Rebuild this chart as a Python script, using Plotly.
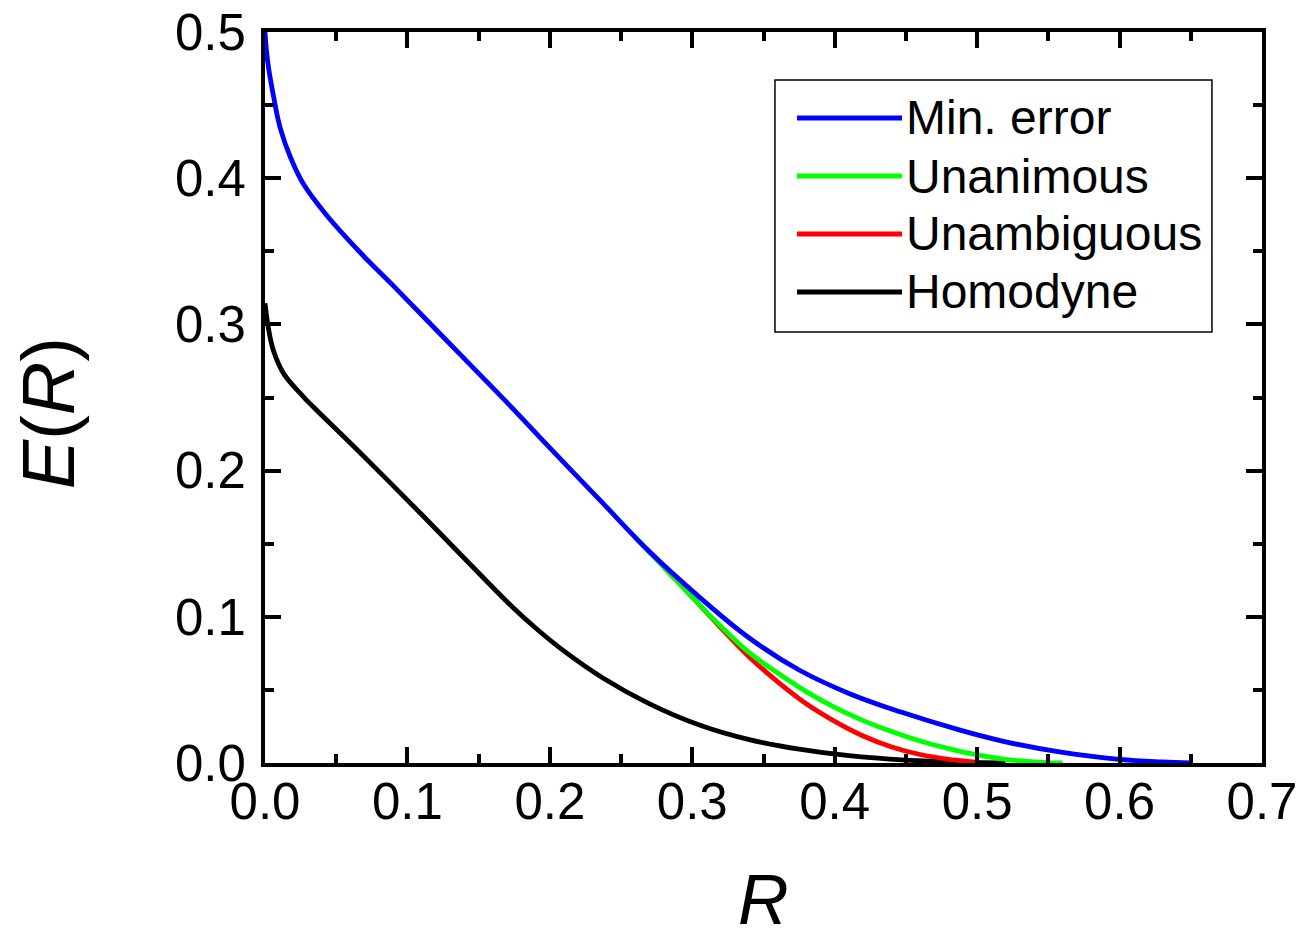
import plotly.graph_objects as go

# Error exponent E(R) versus rate R for four receiver strategies
r_min_error = [0.0, 0.002, 0.006, 0.0105, 0.018, 0.027, 0.043, 0.067, 0.09, 0.114, 0.137,
               0.17, 0.2, 0.235, 0.27, 0.305, 0.34, 0.375, 0.41, 0.446, 0.488, 0.52, 0.56,
               0.6, 0.63, 0.65]
e_min_error = [0.5, 0.479, 0.456, 0.435, 0.414, 0.396, 0.375, 0.349, 0.3265, 0.3025, 0.2795,
               0.2465, 0.2155, 0.180, 0.1445, 0.1135, 0.0855, 0.0636, 0.0476, 0.035, 0.0225, 0.0145,
               0.0072, 0.0025, 0.0007, 0.0]

r_unanimous = [0.26, 0.28, 0.30, 0.32, 0.34, 0.36, 0.38, 0.40, 0.42, 0.44, 0.46, 0.48,
               0.50, 0.52, 0.54, 0.56]
e_unanimous = [0.154, 0.134, 0.1135, 0.0935, 0.0755, 0.0615, 0.0488, 0.038, 0.029, 0.0215,
               0.015, 0.0098, 0.0055, 0.0025, 0.0008, 0.0]

r_unambiguous = [0.28, 0.30, 0.32, 0.34, 0.36, 0.38, 0.40, 0.42, 0.44, 0.46, 0.48, 0.50, 0.501]
e_unambiguous = [0.134, 0.1135, 0.0925, 0.0725, 0.0555, 0.0405, 0.0285, 0.0185, 0.011, 0.0058,
                 0.0025, 0.0003, 0.0]

r_homodyne = [0.0, 0.0023, 0.0058, 0.013, 0.027, 0.034, 0.067, 0.11, 0.156, 0.175, 0.191,
              0.21, 0.2375, 0.27, 0.305, 0.34, 0.375, 0.41, 0.45, 0.49, 0.52]
e_homodyne = [0.3145, 0.298, 0.2825, 0.2665, 0.2505, 0.2435, 0.212, 0.170, 0.124, 0.1055,
              0.0915, 0.0765, 0.058, 0.0405, 0.026, 0.016, 0.0095, 0.005, 0.002, 0.0005, 0.0]

x_ticks = [0.0, 0.1, 0.2, 0.3, 0.4, 0.5, 0.6, 0.7]
y_ticks = [0.0, 0.1, 0.2, 0.3, 0.4, 0.5]

# drawn bottom-up so Min. error sits on top; the key box lists them top-down
series = [
    ("Homodyne", r_homodyne, e_homodyne, "#000000"),
    ("Unambiguous", r_unambiguous, e_unambiguous, "#ff0000"),
    ("Unanimous", r_unanimous, e_unanimous, "#00ff00"),
    ("Min. error", r_min_error, e_min_error, "#0000ff"),
]

font_family = "Liberation Sans, Arial, sans-serif"

fig = go.Figure()
for name, xs, ys, color in series:
    fig.add_trace(go.Scatter(
        x=xs, y=ys, name=name, mode="lines", showlegend=False,
        line=dict(color=color, width=4.8, shape="spline", smoothing=1.1),
    ))

axis_common = dict(
    showline=True, linecolor="black", linewidth=4, mirror="ticks",
    ticks="inside", ticklen=16, tickwidth=4, tickcolor="black",
    showgrid=False, zeroline=False, automargin=False,
    tickfont=dict(family=font_family, size=51, color="black"),
    minor=dict(ticks="inside", ticklen=9, tickwidth=4, tickcolor="black", dtick=0.05, showgrid=False),
)

fig.update_xaxes(
    range=[0, 0.7], tickvals=x_ticks, ticktext=[f"{v:.1f}" for v in x_ticks],
    ticklabelstandoff=-9,
    **axis_common,
)
fig.update_yaxes(
    range=[0, 0.5], tickvals=y_ticks, ticktext=[f"{v:.1f}" for v in y_ticks],
    ticklabelstandoff=5,
    **axis_common,
)

# axis titles
fig.add_annotation(text="<i>E</i>(<i>R</i>)", xref="paper", yref="paper",
                   x=-0.217, y=0.478, textangle=-90, showarrow=False,
                   xanchor="center", yanchor="middle",
                   font=dict(family=font_family, size=74, color="black"))
fig.add_annotation(text="<i>R</i>", xref="paper", yref="paper",
                   x=0.5, y=-0.2435, showarrow=False,
                   xanchor="center", yanchor="bottom",
                   font=dict(family=font_family, size=70, color="black"))

# key box: frame, coloured line samples and labels
key_left, key_right, key_top, key_bottom = 0.5115, 0.9498, 0.9343, 0.5896
key_rows = [0.8824, 0.8030, 0.7237, 0.6444]
fig.add_shape(type="rect", xref="paper", yref="paper",
              x0=key_left, x1=key_right, y0=key_bottom, y1=key_top,
              line=dict(color="black", width=1.5), fillcolor="white", layer="above")
for (name, _, _, color), row_y in zip(reversed(series), key_rows):
    fig.add_shape(type="line", xref="paper", yref="paper",
                  x0=0.5336, x1=0.6389, y0=row_y, y1=row_y,
                  line=dict(color=color, width=5), layer="above")
    fig.add_annotation(text=name, xref="paper", yref="paper",
                       x=0.6409, y=row_y, showarrow=False,
                       xanchor="left", yanchor="middle",
                       font=dict(family=font_family, size=48, color="black"))

fig.update_layout(
    width=1301, height=942,
    margin=dict(l=265, r=39, t=32, b=179, autoexpand=False),
    paper_bgcolor="white", plot_bgcolor="white",
    showlegend=False,
)

fig.write_html("out.html")
